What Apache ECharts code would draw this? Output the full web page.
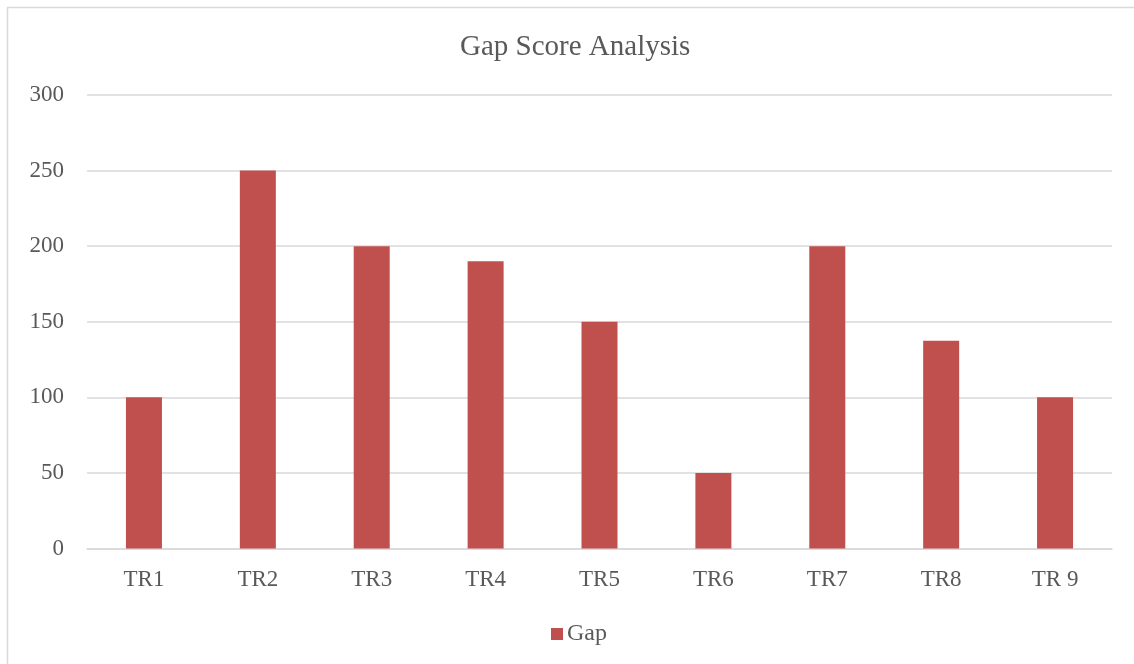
<!DOCTYPE html>
<html>
<head>
<meta charset="utf-8">
<script src="https://cdn.jsdelivr.net/npm/echarts@6/dist/echarts.min.js"></script>
<style>
html,body{margin:0;padding:0;background:#fff;}
#chart{width:1134px;height:664px;}
</style>
</head>
<body>
<div id="chart"></div>
<script>
const categories = ['TR1','TR2','TR3','TR4','TR5','TR6','TR7','TR8','TR 9'];
const gapValues = [100, 250, 200, 190, 150, 50, 200, 137.5, 100];
const yTicks = {min: 0, max: 300, interval: 50};
const seriesName = 'Gap';
const titleText = 'Gap Score Analysis';

const chart = echarts.init(document.getElementById('chart'), null, {renderer: 'canvas'});
const serif = '"Liberation Serif", "DejaVu Serif", serif';
chart.setOption({
  animation: false,
  backgroundColor: '#ffffff',
  graphic: [{
    type: 'rect',
    shape: {x: 7.5, y: 7.5, width: 1140, height: 670},
    style: {fill: 'none', stroke: '#d9d9d9', lineWidth: 1.5},
    silent: true
  }],
  title: {
    text: titleText,
    left: 455,
    top: 28,
    textStyle: {fontFamily: serif, fontWeight: 'normal', fontSize: 29, color: '#595959'}
  },
  legend: {
    data: [seriesName],
    top: 617,
    left: 546,
    icon: 'rect',
    itemWidth: 12,
    itemHeight: 12,
    itemGap: 6,
    textStyle: {fontFamily: serif, fontSize: 24, color: '#595959', padding: [0,0,0,-1]}
  },
  grid: {left: 87, right: 22, top: 95, bottom: 115.5, containLabel: false},
  xAxis: {
    type: 'category',
    data: categories,
    axisLine: {show: true, lineStyle: {color: '#d9d9d9', width: 1.5}},
    axisTick: {show: false},
    axisLabel: {fontFamily: serif, fontSize: 23, color: '#595959', margin: 20}
  },
  yAxis: {
    type: 'value',
    min: yTicks.min,
    max: yTicks.max,
    interval: yTicks.interval,
    axisLine: {show: false},
    axisTick: {show: false},
    splitLine: {lineStyle: {color: '#d9d9d9', width: 1.5}},
    axisLabel: {fontFamily: serif, fontSize: 23, color: '#595959', margin: 23}
  },
  series: [{
    name: seriesName,
    type: 'bar',
    data: gapValues,
    barWidth: 36,
    itemStyle: {color: '#c0504d'}
  }]
});
</script>
</body>
</html>
